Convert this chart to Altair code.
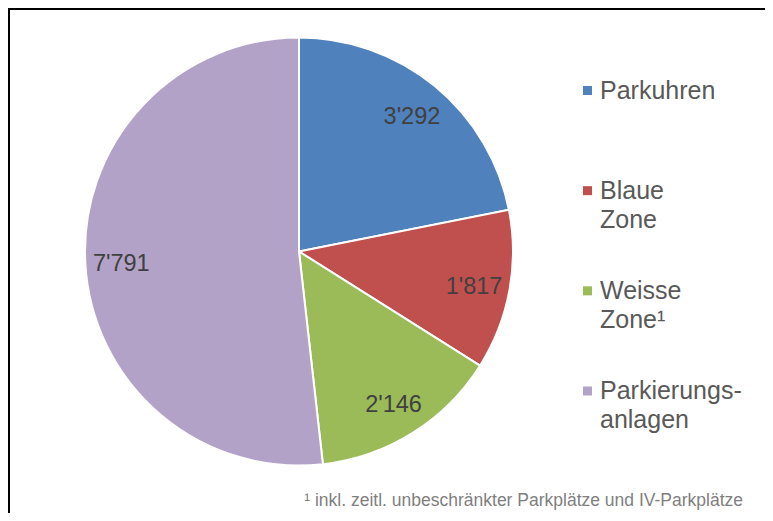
import altair as alt
import pandas as pd

categories = ["Parkuhren", "Blaue Zone", "Weisse Zone", "Parkierungsanlagen"]
legend_labels = ["Parkuhren", "Blaue\nZone", "Weisse\nZone¹", "Parkierungs-\nanlagen"]
values = [3292, 1817, 2146, 7791]
colors = ["#4F81BD", "#C0504D", "#9BBB59", "#B3A2C7"]
footnote = "¹ inkl. zeitl. unbeschränkter Parkplätze und IV-Parkplätze"

df = pd.DataFrame({
    "cat": categories,
    "legend": legend_labels,
    "value": values,
    "idx": list(range(len(values))),
    "label": [f"{v:,}".replace(",", "'") for v in values],
})

W, H = 757, 505
CX, CY = 291, 243.5
FONT = "Liberation Sans"

color = alt.Color("cat:N", scale=alt.Scale(domain=categories, range=colors), legend=None)
ylegend = alt.Y("cat:N", scale=alt.Scale(domain=categories, range=[82.5, 383], padding=0), axis=None)

base = alt.Chart(df)

pie = base.mark_arc(outerRadius=214, stroke="white", strokeWidth=2).encode(
    theta=alt.Theta("value:Q", stack=True),
    order=alt.Order("idx:Q"),
    color=color,
    x=alt.value(CX),
    y=alt.value(CY),
)

labels = base.mark_text(radius=178, dy=3, font=FONT, fontSize=23.5, color="#404040").encode(
    theta=alt.Theta("value:Q", stack=True),
    order=alt.Order("idx:Q"),
    text="label:N",
    x=alt.value(CX),
    y=alt.value(CY),
)

leg_sym = base.mark_square(size=81, opacity=1).encode(
    x=alt.value(579.5),
    y=ylegend,
    color=color,
)

leg_txt = base.mark_text(
    align="left", baseline="alphabetic", dy=8, lineBreak="\n",
    font=FONT, fontSize=25, lineHeight=29, color="#595959",
).encode(
    x=alt.value(592),
    y=ylegend,
    text="legend:N",
)

foot = alt.Chart(pd.DataFrame({"t": [footnote]})).mark_text(
    align="right", baseline="alphabetic", font=FONT, fontSize=17.5, color="#7f7f7f"
).encode(x=alt.value(735), y=alt.value(498), text="t:N")

frame_df = pd.DataFrame({"a": [0]})
frame_top = alt.Chart(frame_df).mark_rule(color="black", strokeWidth=2).encode(
    x=alt.value(0), x2=alt.value(W), y=alt.value(1)
)
frame_left = alt.Chart(frame_df).mark_rule(color="black", strokeWidth=2).encode(
    x=alt.value(1), y=alt.value(0), y2=alt.value(H)
)

chart = alt.layer(pie, labels, leg_sym, leg_txt, foot, frame_top, frame_left).properties(
    width=W, height=H, padding=0,
    autosize=alt.AutoSizeParams(type="none"),
).configure_view(stroke=None).configure(background="white")

chart.save("out.html", embed_options={"renderer": "svg", "actions": False})
